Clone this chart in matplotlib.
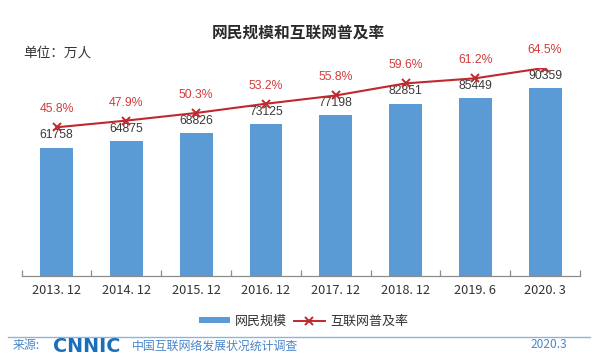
import matplotlib
matplotlib.use("Agg")
import matplotlib.pyplot as plt
from matplotlib.lines import Line2D
from matplotlib.patches import Patch

plt.rcParams['font.family'] = ['Noto Sans CJK SC', 'DejaVu Sans']

categories = ["2013. 12", "2014. 12", "2015. 12", "2016. 12",
              "2017. 12", "2018. 12", "2019. 6", "2020. 3"]
users = [61758, 64875, 68826, 73125, 77198, 82851, 85449, 90359]
rate = [45.8, 47.9, 50.3, 53.2, 55.8, 59.6, 61.2, 64.5]

title = "网民规模和互联网普及率"
unit_label = "单位：万人"
bar_name = "网民规模"
line_name = "互联网普及率"

BAR_COLOR = "#5b9bd5"
LINE_COLOR = "#c0282d"
PCT_COLOR = "#d23c3c"
TEXT_COLOR = "#333333"
FOOT_BLUE = "#4a86c8"

W, H = 600, 361
fig = plt.figure(figsize=(6.0, 3.61), dpi=100)
fig.patch.set_facecolor("white")

left_px, right_px, bottom_px, top_px = 21.7, 580.0, 276.0, 68.0
ax = fig.add_axes([left_px / W, 1 - bottom_px / H,
                   (right_px - left_px) / W, (bottom_px - top_px) / H])
ax.set_facecolor("none")
x = list(range(len(categories)))
ax.bar(x, users, width=0.47, color=BAR_COLOR, zorder=2)
ax.set_xlim(-0.5, len(categories) - 0.5)
ax.set_ylim(0, 100000)

for s in ["top", "left", "right"]:
    ax.spines[s].set_visible(False)
ax.spines["bottom"].set_color("#8c8c8c")
ax.spines["bottom"].set_linewidth(0.9)
ax.set_yticks([])
ax.set_xticks([i - 0.5 for i in range(len(categories) + 1)])
ax.set_xticklabels([])
ax.tick_params(axis="x", which="major", direction="in", length=4,
               color="#8c8c8c", width=0.9)
ax.set_xticks(x, minor=True)
ax.set_xticklabels(categories, minor=True, fontsize=9.2, color=TEXT_COLOR)
ax.tick_params(axis="x", which="minor", length=0, pad=6)

for i, v in enumerate(users):
    ax.annotate(f"{v}", (i, v), xytext=(0, 8.8), textcoords="offset points",
                ha="center", va="center", fontsize=8.8, color="#3a3a3a",
                family=["Liberation Sans", "DejaVu Sans"], zorder=4)

ax2 = ax.twinx()
ax2.set_ylim(-0.96, 64.44)
ax2.plot(x, rate, color=LINE_COLOR, lw=1.5, marker="x", markersize=6,
         markeredgewidth=1.4, zorder=3)
ax2.axis("off")
for i, p in enumerate(rate):
    ax2.annotate(f"{p}%", (i, p), xytext=(0, 13), textcoords="offset points",
                 ha="center", va="center", fontsize=8.8, color=PCT_COLOR,
                 family=["Liberation Sans", "DejaVu Sans"])

fig.text(298.5 / W, 1 - 33 / H, title, ha="center", va="center",
         fontsize=11.3, fontweight="bold", color="#2a2a2a")
fig.text(23 / W, 1 - 53 / H, unit_label, ha="left", va="center",
         fontsize=9.8, color=TEXT_COLOR)

handles = [Patch(facecolor=BAR_COLOR, edgecolor="none"),
           Line2D([], [], color=LINE_COLOR, lw=1.4, marker="x",
                  markersize=6, markeredgewidth=1.4)]
leg = fig.legend(handles, [bar_name, line_name], loc="center",
                 bbox_to_anchor=(303.5 / W, 1 - 321 / H), ncol=2,
                 frameon=False, fontsize=9.4, handlelength=2.4,
                 handleheight=0.4, handletextpad=0.4, columnspacing=0.5,
                 labelcolor=TEXT_COLOR)

fig.add_artist(Line2D([8 / W, 590 / W], [1 - 336.7 / H, 1 - 336.7 / H],
                      color="#8fb3dc", lw=1.0))
fig.text(13 / W, 1 - 346 / H, "来源:", ha="left", va="center",
         fontsize=8.6, color=FOOT_BLUE)
fig.text(53 / W, 1 - 346 / H, "CNNIC", ha="left", va="center",
         fontsize=13.8, fontweight="bold", color="#1b6fba",
         family="DejaVu Sans")
fig.text(132 / W, 1 - 346 / H, "中国互联网络发展状况统计调查", ha="left",
         va="center", fontsize=8.6, color=FOOT_BLUE)
fig.text(567 / W, 1 - 345 / H, "2020.3", ha="right", va="center",
         fontsize=8.6, color=FOOT_BLUE)

fig.savefig("out.png", dpi=100, facecolor="white")
